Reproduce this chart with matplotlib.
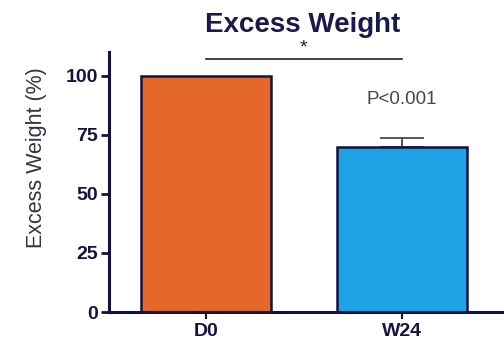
import matplotlib.pyplot as plt
import numpy as np

groups = ["D0", "W24"]
values = [100, 70]
errors = [0, 3.6]
bar_colors = ["#E5682B", "#1DA2E6"]
yticks = [0, 25, 50, 75, 100]

navy = "#13133F"
plt.rcParams['font.family'] = ['Liberation Sans', 'DejaVu Sans']

fig = plt.figure(figsize=(5.04, 3.46), dpi=100)
ax = fig.add_axes([0.216, 0.098, 0.780, 0.752])

x = np.arange(len(groups))
ax.bar(x, values, width=0.66, color=bar_colors, edgecolor=navy, linewidth=1.8, zorder=2)
# error bar only upward, like Prism
ax.errorbar(x[1], values[1], yerr=[[0], [errors[1]]], fmt='none', ecolor="#3a3a4a",
            elinewidth=1.2, capsize=16, capthick=1.2, zorder=1)

# significance bracket
ax.plot([x[0], x[1]], [107, 107], color="#222233", lw=1.2, clip_on=False)
ax.text((x[0] + x[1]) / 2, 108.0, "*", ha='center', va='bottom', fontsize=14, color="#222233")
ax.text(x[1], 90, "P<0.001", ha='center', va='center', fontsize=13.5, color="#444455")

ax.set_xlim(-0.495, 1.51)
ax.set_ylim(0, 110)
ax.set_yticks(yticks)
ax.set_yticklabels([str(t) for t in yticks], fontweight='bold', fontsize=14, color=navy)
ax.set_xticks(x)
ax.set_xticklabels(groups, fontweight='bold', fontsize=14, color=navy)
ax.tick_params(axis='y', length=6, width=2, color=navy, pad=2)
ax.tick_params(axis='x', length=5, width=1.5, color=navy, pad=3)

for s in ['top', 'right']:
    ax.spines[s].set_visible(False)
for s in ['left', 'bottom']:
    ax.spines[s].set_linewidth(2.2)
    ax.spines[s].set_color(navy)

fig.text(37 / 504, 1 - 158 / 346, "Excess Weight (%)", rotation=90, ha='center', va='center',
         fontsize=15.5, color="#333344")
fig.text(303 / 504, 1 - 25 / 346, "Excess Weight", ha='center', va='center', fontsize=20,
         fontweight='bold', color="#1A1A4A")

fig.savefig("out.png", dpi=100)
